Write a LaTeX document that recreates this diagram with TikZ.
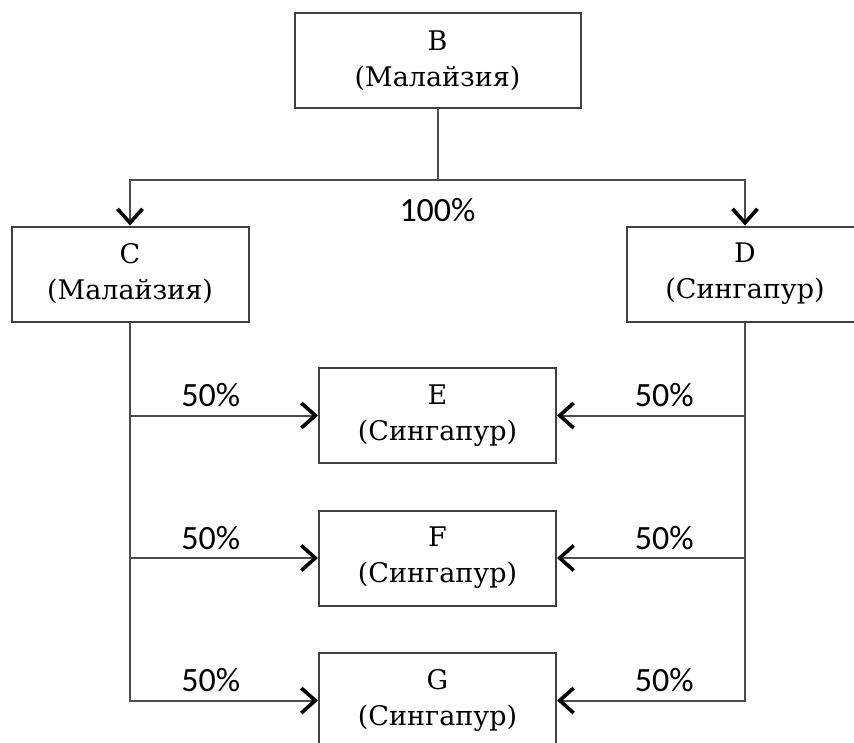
\documentclass[tikz,border=0pt]{standalone}
\usepackage{fontspec}
\setmainfont{DejaVu Serif}
\newfontfamily\pctfont{Carlito}
\usetikzlibrary{positioning,arrows.meta}

\tikzset{
  firm/.style={draw=black!75, line width=2pt, minimum width=237pt, minimum height=95pt,
    align=center, inner sep=0pt, font=\fontsize{27}{36}\selectfont},
  link/.style={draw=black!70, line width=2pt},
  own/.style={link, -{Straight Barb[length=14pt,width=25pt,line width=3.6pt,color=black]}},
  pct/.style={font=\pctfont\fontsize{34}{40}\selectfont}
}

\begin{document}
\begin{tikzpicture}[node distance=142.5pt, on grid]
   \useasboundingbox (0,0) rectangle (854pt,-742pt);
   \node[firm, minimum width=286pt] (B) at (437.5pt,-60.5pt) {B\\(Малайзия)};
   \node[firm] (C) [below left=213.5pt and 307.5pt of B] {C\\(Малайзия)};
   \node[firm] (D) [below right=213.5pt and 307.5pt of B] {D\\(Сингапур)};
   \node[firm] (E) [below=355pt of B] {E\\(Сингапур)};
   \node[firm] (F) [below=of E] {F\\(Сингапур)};
   \node[firm] (G) [below=of F] {G\\(Сингапур)};
   % B owns C and D
   \draw[link, line cap=rect] (B.south) -- ++(0,-70.5pt) coordinate (split);
   \draw[own] (split) -| (C.north);
   \draw[own] (split) -| (D.north);
   \node[pct] (total) at ([yshift=-31pt]split) {100\%};
   % C and D share E, F, G
   \draw[link, line cap=rect] (C.south) -- (C.south |- G.west);
   \draw[link, line cap=rect] (D.south) -- (D.south |- G.east);
   \foreach \n in {E,F,G} {
     \draw[own] (C.south |- \n.west) -- node[pct, above, pos=.43, yshift=4pt] {50\%} (\n.west);
     \draw[own] (D.south |- \n.east) -- node[pct, above, pos=.43, yshift=4pt] {50\%} (\n.east);
   }
\end{tikzpicture}
\end{document}
